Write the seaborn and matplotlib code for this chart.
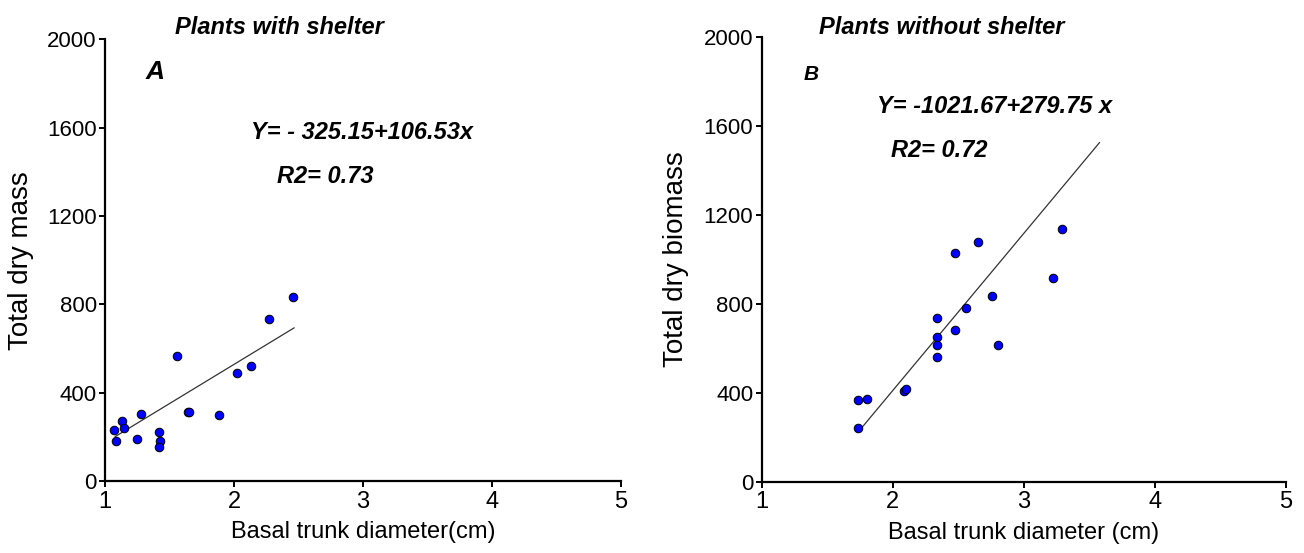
import numpy as np
import matplotlib
matplotlib.use("Agg")
import matplotlib.pyplot as plt
import seaborn as sns

# style: plain white axes, only left/bottom spines
sns.set_theme(style="ticks")
plt.rcParams['font.family'] = ['Liberation Sans', 'DejaVu Sans']
plt.rcParams['text.color'] = 'black'
plt.rcParams['axes.labelcolor'] = 'black'
plt.rcParams['xtick.color'] = 'black'
plt.rcParams['ytick.color'] = 'black'

# --- data ---
# panel A: plants with shelter
shelter_diam = [1.07, 1.085, 1.13, 1.15, 1.245, 1.28, 1.415, 1.43, 1.415,
                1.56, 1.64, 1.655, 1.885, 2.02, 2.13, 2.27, 2.46]
shelter_mass = [231, 183, 273, 239, 190, 302, 221, 183, 154,
                566, 314, 314, 298, 490, 519, 734, 833]
shelter_fit = (-182, 355)          # intercept, slope of the drawn line
shelter_fit_range = [1.078, 2.467]

# panel B: plants without shelter
open_diam = [1.735, 1.805, 1.735, 2.09, 2.10, 2.335, 2.335, 2.335, 2.335,
             2.475, 2.475, 2.56, 2.655, 2.755, 2.805, 3.225, 3.29]
open_mass = [367, 373, 240, 409, 415, 737, 652, 614, 559,
             683, 1029, 782, 1076, 836, 614, 914, 1136]
open_fit = (-1003, 706)
open_fit_range = [1.763, 3.58]

x_ticks = [1, 2, 3, 4, 5]
y_ticks = [0, 400, 800, 1200, 1600, 2000]

panels = [
    dict(x=shelter_diam, y=shelter_mass, fit=shelter_fit, rng=shelter_fit_range,
         pos=[0.0805, 0.1302, 0.3957, 0.7986],
         title="Plants with shelter", title_xy=(2.35, 2025),
         letter="A", letter_xy=(1.39, 1821), letter_size=19, letter_ha="center",
         eq="Y= - 325.15+106.53x", eq_xy=(2.13, 1548),
         r2="R2= 0.73", r2_xy=(2.33, 1351),
         ylabel="Total dry mass", xlabel="Basal trunk diameter(cm)",
         ylabel_x=21),
    dict(x=open_diam, y=open_mass, fit=open_fit, rng=open_fit_range,
         pos=[0.5841, 0.1290, 0.4018, 0.8047],
         title="Plants without shelter", title_xy=(2.376, 2012),
         letter="B", letter_xy=(1.323, 1805), letter_size=15, letter_ha="left",
         eq="Y= -1021.67+279.75 x", eq_xy=(1.878, 1658),
         r2="R2= 0.72", r2_xy=(1.985, 1461),
         ylabel="Total dry biomass", xlabel="Basal trunk diameter (cm)",
         ylabel_x=676),
]

W, H = 1304, 553
fig = plt.figure(figsize=(W / 100, H / 100), dpi=100)

for p in panels:
    ax = fig.add_axes(p["pos"])
    ax.set_facecolor("white")

    lx = np.array(p["rng"])
    ly = p["fit"][0] + p["fit"][1] * lx
    sns.lineplot(x=lx, y=ly, ax=ax, color="#333333", linewidth=0.9)
    sns.scatterplot(x=p["x"], y=p["y"], ax=ax, color="#0000ff", s=38,
                    edgecolor="black", linewidth=0.7, zorder=3)

    ax.set_xlim(1, 5)
    ax.set_ylim(0, 2000)
    ax.set_xticks(x_ticks)
    ax.set_yticks(y_ticks)
    sns.despine(ax=ax)
    for s in ["left", "bottom"]:
        ax.spines[s].set_linewidth(1.6)
        ax.spines[s].set_color("black")
    ax.tick_params(axis="both", direction="out", length=4, width=1.4, color="black")
    ax.tick_params(axis="x", labelsize=17, pad=3)
    ax.tick_params(axis="y", labelsize=16, pad=2)

    ax.set_xlabel(p["xlabel"], fontsize=17, labelpad=6)
    ax.set_ylabel(p["ylabel"], fontsize=20)
    # put the y label centre on the measured pixel column
    ax.yaxis.label.set_verticalalignment("center")
    bbox = ax.get_position()
    ax.yaxis.set_label_coords((p["ylabel_x"] / W - bbox.x0) / bbox.width, 0.5)

    bi = dict(fontweight="bold", fontstyle="italic", color="black")
    ax.text(*p["title_xy"], p["title"], fontsize=17, ha="center", va="baseline",
            clip_on=False, **bi)
    ax.text(*p["letter_xy"], p["letter"], fontsize=p["letter_size"],
            ha=p["letter_ha"], va="baseline", **bi)
    ax.text(*p["eq_xy"], p["eq"], fontsize=17, ha="left", va="baseline", **bi)
    ax.text(*p["r2_xy"], p["r2"], fontsize=17, ha="left", va="baseline", **bi)

fig.savefig("out.png", dpi=100, facecolor="white")
plt.close(fig)
